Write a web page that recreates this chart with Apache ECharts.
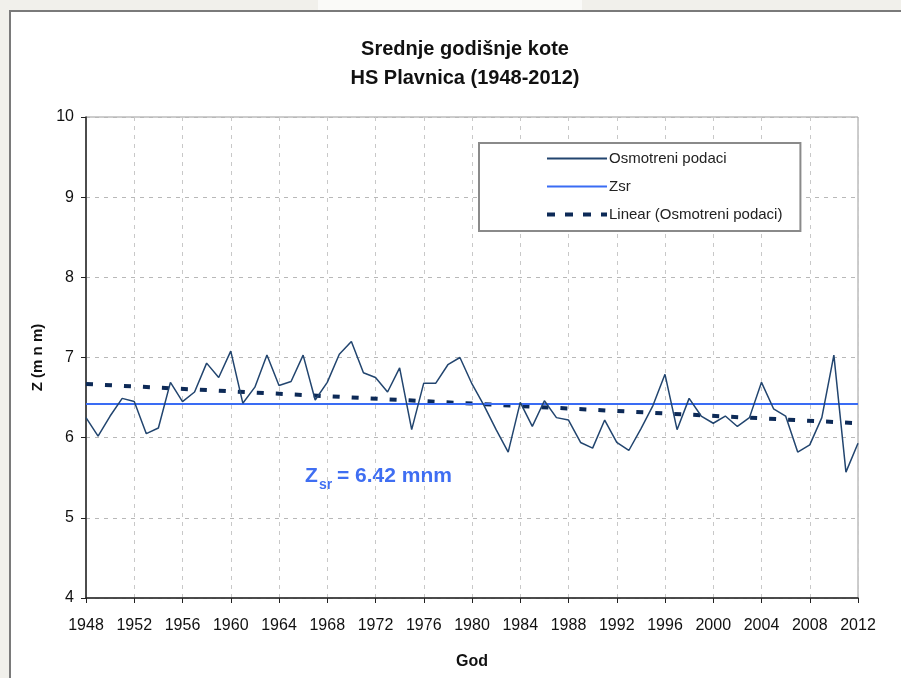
<!DOCTYPE html>
<html>
<head>
<meta charset="utf-8">
<title>Srednje godišnje kote - HS Plavnica</title>
<script src="https://cdn.jsdelivr.net/npm/echarts@6/dist/echarts.min.js"></script>
<style>
	html, body { margin: 0; padding: 0; background: #f1f0eb; }
	#main { width: 901px; height: 678px; }
</style>
</head>
<body>
<div id="main"></div>
<script>
// godine 1948-2012
var years = [];
for (var y = 1948; y <= 2012; y++) {
	years.push(y);
}
// srednje godisnje kote (m n m), ocitano sa grafika
var zValues = [
	6.25, 6.02, 6.27, 6.49, 6.45, 6.05, 6.12, 6.69, 6.45, 6.57,
	6.93, 6.75, 7.08, 6.43, 6.63, 7.03, 6.65, 6.70, 7.03, 6.47,
	6.69, 7.04, 7.20, 6.81, 6.75, 6.57, 6.87, 6.10, 6.68, 6.68,
	6.91, 7.00, 6.67, 6.40, 6.10, 5.82, 6.44, 6.14, 6.46, 6.25,
	6.22, 5.94, 5.87, 6.22, 5.94, 5.84, 6.11, 6.40, 6.79, 6.10,
	6.49, 6.27, 6.18, 6.27, 6.14, 6.25, 6.69, 6.36, 6.27, 5.82,
	5.91, 6.25, 7.03, 5.57, 5.93
];
var zsr = 6.42;
// linearni trend: pocetak i kraj
var trendYears = [1948, 2012];
var trendValues = [6.67, 6.18];

var obsData = years.map(function(yr, i) {
	return [yr, zValues[i]];
});
var zsrData = [[1948, zsr], [2012, zsr]];
var trendData = trendYears.map(function(yr, i) {
	return [yr, trendValues[i]];
});

var font = '"Liberation Sans", Arial, sans-serif';
var chart = echarts.init(document.getElementById('main'));

var option = {
	backgroundColor: '#f1f0eb',
	animation: false,
	textStyle: { fontFamily: font },
	title: {
		text: 'Srednje godišnje kote\nHS Plavnica (1948-2012)',
		left: 460,
		top: 30,
		textAlign: 'center',
		textStyle: {
			fontFamily: font,
			fontSize: 20,
			fontWeight: 'bold',
			color: '#111',
			lineHeight: 29
		}
	},
	legend: {
		orient: 'vertical',
		left: 479,
		top: 143,
		padding: [8, 18, 9, 66],
		itemGap: 13,
		itemWidth: 60,
		itemHeight: 15,
		borderColor: '#8a8a8a',
		borderWidth: 2,
		backgroundColor: '#fff',
		itemStyle: { opacity: 0 },
		textStyle: { fontFamily: font, fontSize: 15, color: '#222', padding: [0, 0, 0, -3] },
		data: [
			'Osmotreni podaci',
			'Zsr',
			{ name: 'Linear (Osmotreni podaci)', lineStyle: { width: 4, type: [8, 10] } }
		]
	},
	grid: {
		left: 86,
		right: 43,
		top: 117,
		bottom: 80,
		show: true,
		borderColor: '#9a9a9a',
		borderWidth: 1,
		backgroundColor: '#fff'
	},
	xAxis: {
		type: 'value',
		min: 1948,
		max: 2012,
		interval: 4,
		name: 'God',
		nameLocation: 'middle',
		nameGap: 56,
		nameTextStyle: { fontFamily: font, fontSize: 16, fontWeight: 'bold', color: '#111' },
		axisLine: { lineStyle: { color: '#222', width: 1.5 } },
		axisTick: { inside: false, length: 5, lineStyle: { color: '#222' } },
		axisLabel: {
			fontFamily: font, fontSize: 16, color: '#111', margin: 20,
			formatter: function(v) { return String(v); }
		},
		splitLine: { show: true, lineStyle: { color: '#c8c8c8', type: [4, 5] } }
	},
	yAxis: {
		type: 'value',
		min: 4,
		max: 10,
		interval: 1,
		name: 'Z (m n m)',
		nameLocation: 'middle',
		nameGap: 41,
		nameTextStyle: { fontFamily: font, fontSize: 15, fontWeight: 'bold', color: '#111' },
		axisLine: { show: true, lineStyle: { color: '#222', width: 1.5 } },
		axisTick: { show: true, length: 5, lineStyle: { color: '#222' } },
		axisLabel: { fontFamily: font, fontSize: 16, color: '#111', margin: 12 },
		splitLine: { show: true, lineStyle: { color: '#b8b8b8', type: [4, 5] } }
	},
	series: [{
		name: 'Osmotreni podaci',
		type: 'line',
		data: obsData,
		symbol: 'none',
		lineStyle: { color: '#22456f', width: 1.5 },
		itemStyle: { color: '#22456f' },
		z: 4
	}, {
		name: 'Zsr',
		type: 'line',
		data: zsrData,
		symbol: 'none',
		lineStyle: { color: '#3a6cf4', width: 2 },
		itemStyle: { color: '#3a6cf4' },
		z: 3
	}, {
		name: 'Linear (Osmotreni podaci)',
		type: 'line',
		data: trendData,
		symbol: 'none',
		lineStyle: { color: '#0d2a57', width: 4, type: [7, 12] },
		itemStyle: { color: '#0d2a57' },
		z: 2
	}],
	graphic: [{
		type: 'rect',
		shape: { x: 10, y: 11, width: 910, height: 700 },
		style: { fill: '#fff', stroke: '#7a7a7a', lineWidth: 2 },
		z: -10
	}, {
		type: 'rect',
		shape: { x: 318, y: 0, width: 264, height: 10 },
		style: { fill: '#fafaf8' },
		z: -10
	}, {
		type: 'text',
		left: 305,
		top: 466,
		style: { text: 'Z', fontFamily: font, fontSize: 21, fontWeight: 'bold', fill: '#3f6ef2' }
	}, {
		type: 'text',
		left: 319,
		top: 478,
		style: { text: 'sr', fontFamily: font, fontSize: 14, fontWeight: 'bold', fill: '#3f6ef2' }
	}, {
		type: 'text',
		left: 337,
		top: 466,
		style: { text: '= 6.42 mnm', fontFamily: font, fontSize: 21, fontWeight: 'bold', fill: '#3f6ef2' }
	}]
};
chart.setOption(option);
</script>
</body>
</html>
